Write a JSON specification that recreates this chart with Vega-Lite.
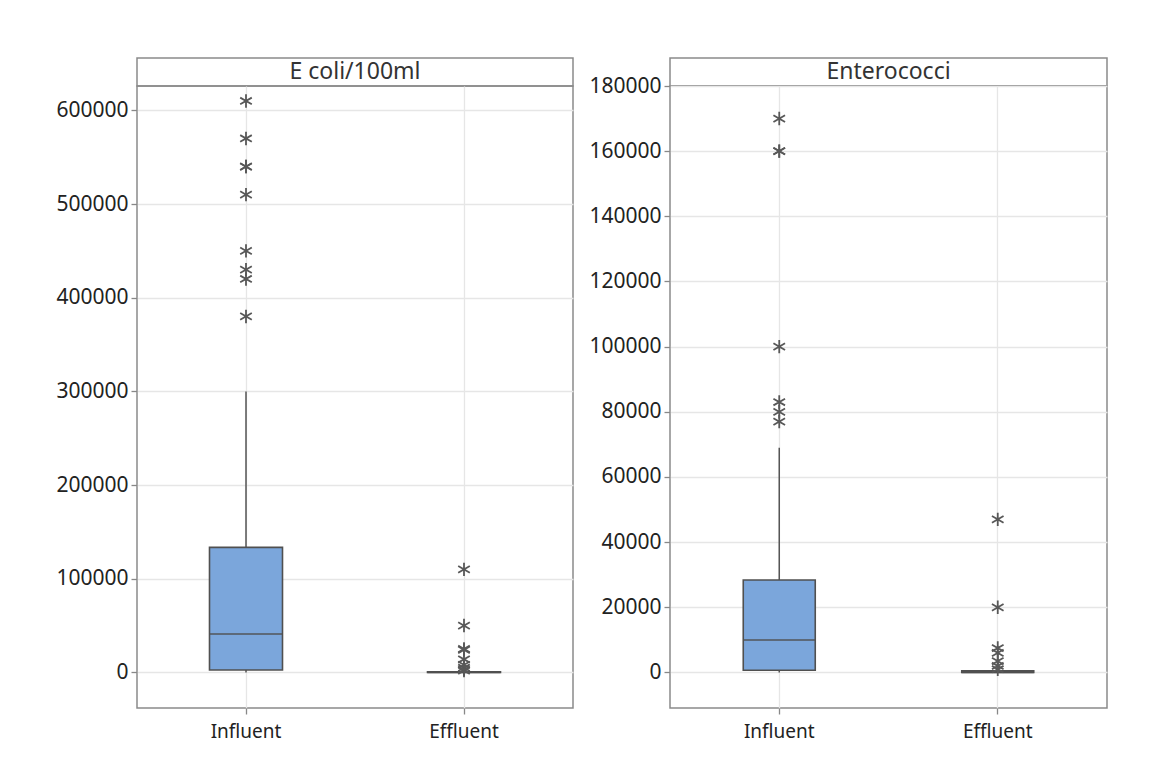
{
  "$schema": "https://vega.github.io/schema/vega-lite/v6.json",
  "padding": {"left": 55, "top": 57, "right": 0, "bottom": 0},
  "background": "white",
  "datasets": {
    "ecoli_stats": [
      {"group": "Influent", "lo": 0, "q1": 2500, "median": 41000, "q3": 133500, "hi": 300000},
      {"group": "Effluent", "lo": 0, "q1": 0, "median": 100, "q3": 700, "hi": 1500}
    ],
    "ecoli_out": [
      {"group": "Influent", "value": 610000},
      {"group": "Influent", "value": 570000},
      {"group": "Influent", "value": 540000},
      {"group": "Influent", "value": 540000},
      {"group": "Influent", "value": 510000},
      {"group": "Influent", "value": 450000},
      {"group": "Influent", "value": 430000},
      {"group": "Influent", "value": 420000},
      {"group": "Influent", "value": 380000},
      {"group": "Effluent", "value": 110000},
      {"group": "Effluent", "value": 50000},
      {"group": "Effluent", "value": 25000},
      {"group": "Effluent", "value": 24000},
      {"group": "Effluent", "value": 14000},
      {"group": "Effluent", "value": 8000},
      {"group": "Effluent", "value": 5000},
      {"group": "Effluent", "value": 3000},
      {"group": "Effluent", "value": 2000}
    ],
    "ent_stats": [
      {"group": "Influent", "lo": 0, "q1": 700, "median": 10000, "q3": 28400, "hi": 69000},
      {"group": "Effluent", "lo": 0, "q1": 0, "median": 100, "q3": 500, "hi": 800}
    ],
    "ent_out": [
      {"group": "Influent", "value": 170000},
      {"group": "Influent", "value": 160000},
      {"group": "Influent", "value": 160000},
      {"group": "Influent", "value": 100000},
      {"group": "Influent", "value": 83000},
      {"group": "Influent", "value": 80000},
      {"group": "Influent", "value": 77000},
      {"group": "Effluent", "value": 47000},
      {"group": "Effluent", "value": 20000},
      {"group": "Effluent", "value": 7500},
      {"group": "Effluent", "value": 6000},
      {"group": "Effluent", "value": 3500},
      {"group": "Effluent", "value": 2000},
      {"group": "Effluent", "value": 1000}
    ]
  },
  "spacing": 14,
  "hconcat": [
    {
      "spacing": 0,
      "bounds": "flush",
      "vconcat": [
        {
          "width": 436,
          "height": 28,
          "data": {"values": [{"t": "E coli/100ml"}]},
          "mark": {"type": "text", "fontSize": 23, "color": "#333333", "font": "Noto Sans"},
          "encoding": {
            "x": {"datum": 0.5, "type": "quantitative", "scale": {"domain": [0, 1], "nice": false}, "axis": null},
            "y": {"datum": 0.5, "type": "quantitative", "scale": {"domain": [0, 1], "nice": false}, "axis": null},
            "text": {"field": "t", "type": "nominal"}
          }
        },
        {
          "width": 436,
          "height": 622,
          "layer": [
            {
              "data": {"name": "ecoli_stats"},
              "mark": {"type": "rule", "color": "#555555", "strokeWidth": 1.5},
              "encoding": {
                "x": {"field": "group", "type": "nominal", "title": null,
                  "scale": {"domain": ["Influent", "Effluent"], "paddingInner": 0, "paddingOuter": 0},
                  "axis": {"labelAngle": 0, "labelPadding": 8, "grid": true}},
                "y": {"field": "hi", "type": "quantitative", "title": null,
                  "scale": {"domain": [-38000, 626000], "nice": false, "zero": false},
                  "axis": {"values": [0, 100000, 200000, 300000, 400000, 500000, 600000], "format": "d", "labelPadding": 3, "labelFontSize": 21}},
                "y2": {"field": "q3"}
              }
            },
            {
              "data": {"name": "ecoli_stats"},
              "mark": {"type": "rule", "color": "#555555", "strokeWidth": 1.5},
              "encoding": {
                "x": {"field": "group", "type": "nominal"},
                "y": {"field": "lo", "type": "quantitative"},
                "y2": {"field": "q1"}
              }
            },
            {
              "data": {"name": "ecoli_stats"},
              "mark": {"type": "bar", "size": 73, "fill": "#7BA6DB", "stroke": "#505050", "strokeWidth": 1.6},
              "encoding": {
                "x": {"field": "group", "type": "nominal"},
                "y": {"field": "q1", "type": "quantitative"},
                "y2": {"field": "q3"}
              }
            },
            {
              "data": {"name": "ecoli_stats"},
              "mark": {"type": "tick", "size": 73, "thickness": 2, "color": "#505050"},
              "encoding": {
                "x": {"field": "group", "type": "nominal"},
                "y": {"field": "median", "type": "quantitative"}
              }
            },
            {
              "data": {"name": "ecoli_out"},
              "mark": {"type": "point", "shape": "M0,-1V1M-0.866,-0.5L0.866,0.5M-0.866,0.5L0.866,-0.5", "size": 180, "filled": false, "stroke": "#585858", "strokeWidth": 1.8, "opacity": 1},
              "encoding": {
                "x": {"field": "group", "type": "nominal"},
                "y": {"field": "value", "type": "quantitative"}
              }
            }
          ]
        }
      ]
    },
    {
      "spacing": 0,
      "bounds": "flush",
      "vconcat": [
        {
          "width": 437,
          "height": 28,
          "data": {"values": [{"t": "Enterococci"}]},
          "mark": {"type": "text", "fontSize": 23, "color": "#333333", "font": "Noto Sans"},
          "encoding": {
            "x": {"datum": 0.5, "type": "quantitative", "scale": {"domain": [0, 1], "nice": false}, "axis": null},
            "y": {"datum": 0.5, "type": "quantitative", "scale": {"domain": [0, 1], "nice": false}, "axis": null},
            "text": {"field": "t", "type": "nominal"}
          }
        },
        {
          "width": 437,
          "height": 622,
          "layer": [
            {
              "data": {"name": "ent_stats"},
              "mark": {"type": "rule", "color": "#555555", "strokeWidth": 1.5},
              "encoding": {
                "x": {"field": "group", "type": "nominal", "title": null,
                  "scale": {"domain": ["Influent", "Effluent"], "paddingInner": 0, "paddingOuter": 0},
                  "axis": {"labelAngle": 0, "labelPadding": 8, "grid": true}},
                "y": {"field": "hi", "type": "quantitative", "title": null,
                  "scale": {"domain": [-10900, 180000], "nice": false, "zero": false},
                  "axis": {"values": [0, 20000, 40000, 60000, 80000, 100000, 120000, 140000, 160000, 180000], "format": "d", "labelPadding": 3, "labelFontSize": 21}},
                "y2": {"field": "q3"}
              }
            },
            {
              "data": {"name": "ent_stats"},
              "mark": {"type": "rule", "color": "#555555", "strokeWidth": 1.5},
              "encoding": {
                "x": {"field": "group", "type": "nominal"},
                "y": {"field": "lo", "type": "quantitative"},
                "y2": {"field": "q1"}
              }
            },
            {
              "data": {"name": "ent_stats"},
              "mark": {"type": "bar", "size": 72, "fill": "#7BA6DB", "stroke": "#505050", "strokeWidth": 1.6},
              "encoding": {
                "x": {"field": "group", "type": "nominal"},
                "y": {"field": "q1", "type": "quantitative"},
                "y2": {"field": "q3"}
              }
            },
            {
              "data": {"name": "ent_stats"},
              "mark": {"type": "tick", "size": 72, "thickness": 2, "color": "#505050"},
              "encoding": {
                "x": {"field": "group", "type": "nominal"},
                "y": {"field": "median", "type": "quantitative"}
              }
            },
            {
              "data": {"name": "ent_out"},
              "mark": {"type": "point", "shape": "M0,-1V1M-0.866,-0.5L0.866,0.5M-0.866,0.5L0.866,-0.5", "size": 180, "filled": false, "stroke": "#585858", "strokeWidth": 1.8, "opacity": 1},
              "encoding": {
                "x": {"field": "group", "type": "nominal"},
                "y": {"field": "value", "type": "quantitative"}
              }
            }
          ]
        }
      ]
    }
  ],
  "config": {
    "view": {"stroke": "#8a8a8a", "strokeWidth": 1.5},
    "font": "Noto Sans",
    "axis": {
      "labelFont": "Noto Sans",
      "labelFontSize": 19,
      "labelColor": "#222222",
      "domain": false,
      "ticks": true,
      "tickColor": "#888888",
      "tickSize": 6,
      "tickWidth": 1.3,
      "gridColor": "#e6e6e6",
      "gridWidth": 1.3
    }
  }
}
